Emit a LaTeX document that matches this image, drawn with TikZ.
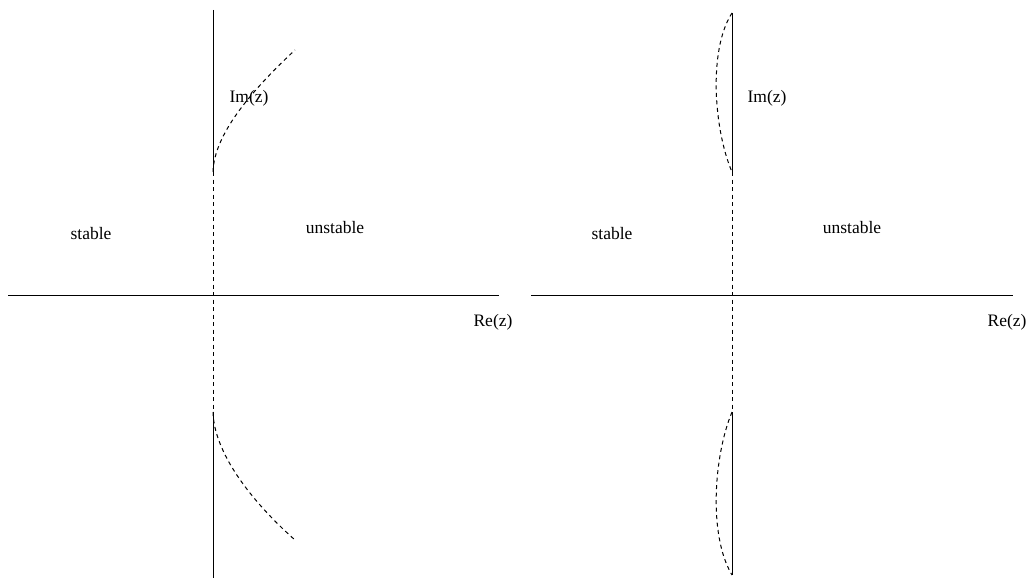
\documentclass[tikz,border=0pt]{standalone}
\usepackage{fontspec}
\setmainfont{Liberation Serif}
\begin{document}
\begin{tikzpicture}[x=1pt,y=-1pt,
  axis/.style={line width=1pt,black},
  dashcurve/.style={line width=1pt,black,dash pattern=on 4pt off 3.5pt},
  lbl/.style={font=\fontsize{17.5}{20}\selectfont,inner sep=0pt}]
\useasboundingbox (0,0) rectangle (1030,578);
% left diagram
\coordinate (LT) at (213,10);
\coordinate (LA) at (213,172);
\coordinate (LB) at (213,412);
\coordinate (LD) at (213,578);
\coordinate (LTe) at (295,50);
\coordinate (LBe) at (295,540);
\coordinate (HL1) at (8,295);
\coordinate (HL2) at (499,295);
\draw[axis] (LT) -- (LA);
\draw[axis] (LB) -- (LD);
\draw[dashcurve] (LA) -- (LB);
\draw[axis] (HL1) -- (HL2);
\draw[dashcurve] (LA) .. controls (214,135) and (250,92) .. (LTe);
\draw[dashcurve] (LB) .. controls (214,452) and (250,500) .. (LBe);
\node[lbl] (imL) at (249,98) {Im(z)};
\node[lbl] (reL) at (493,322) {Re(z)};
\node[lbl] (stL) at (91,234) {stable};
\node[lbl] (unL) at (335,228) {unstable};
% right diagram
\coordinate (RT) at (732,13);
\coordinate (RA) at (732,172);
\coordinate (RB) at (732,412);
\coordinate (RD) at (732,575);
\coordinate (HR1) at (531,295);
\coordinate (HR2) at (1013,295);
\draw[axis] (RT) -- (RA);
\draw[axis] (RB) -- (RD);
\draw[dashcurve] (RA) -- (RB);
\draw[axis] (HR1) -- (HR2);
\draw[dashcurve] (RT) .. controls (708,50) and (714,130) .. (RA);
\draw[dashcurve] (RB) .. controls (714,455) and (708,535) .. (RD);
\node[lbl] (imR) at (767,98) {Im(z)};
\node[lbl] (reR) at (1007,322) {Re(z)};
\node[lbl] (stR) at (612,234) {stable};
\node[lbl] (unR) at (852,228) {unstable};
\end{tikzpicture}
\end{document}
